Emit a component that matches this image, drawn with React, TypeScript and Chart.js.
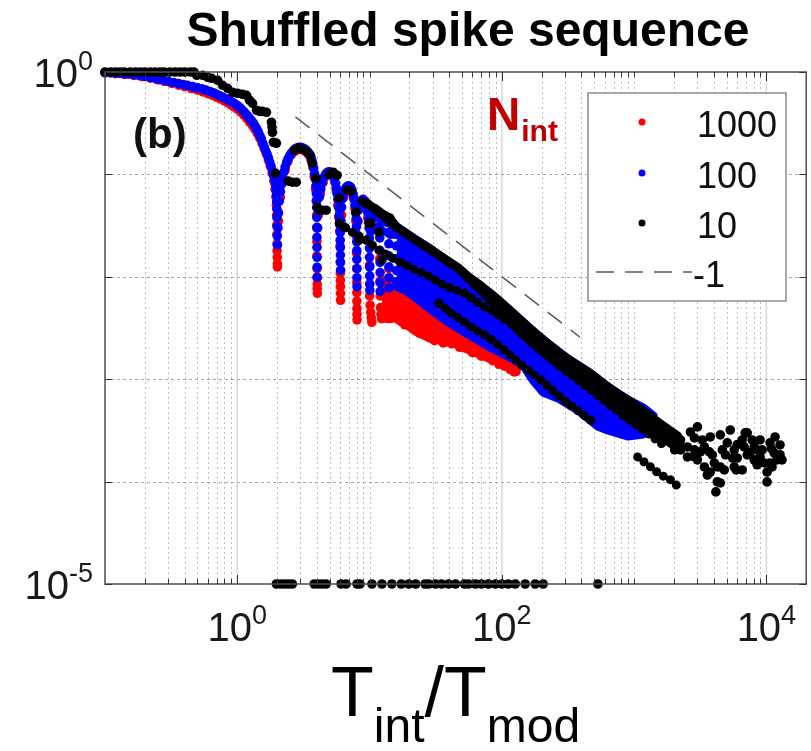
import React, { useEffect, useRef } from 'react';
import { Chart, registerables } from 'chart.js';

Chart.register(...registerables);

type P = [number, number];

// ---------------- text / ticks ----------------
const titleText = 'Shuffled spike sequence';
const panelLabel = '(b)';
const legendTitleMain = 'N';
const legendTitleSub = 'int';
const legendLabels = ['1000', '100', '10', '-1'];
const legendColors = ['#ff0000', '#0000ff', '#000000'];
const xTickLabels = [
  { v: 1, base: '10', exp: '0' },
  { v: 100, base: '10', exp: '2' },
  { v: 10000, base: '10', exp: '4' },
];
const yTickLabels = [
  { v: 1, base: '10', exp: '0' },
  { v: 1e-5, base: '10', exp: '-5' },
];
const yDecades = [1e-5, 1e-4, 1e-3, 1e-2, 1e-1, 1];
const xMajor = [1, 100, 10000];
const xTitleParts: [string, 'main' | 'sub'][] = [
  ['T', 'main'], ['int', 'sub'], ['/', 'main'], ['T', 'main'], ['mod', 'sub'],
];

// ---------------- data ----------------
// slope -1 guide line
const refLine: P[] = [[2.75, 0.364], [390, 0.00257]];

// N_int = 1000 (red)
const redScatter: P[] = [
  [0.1, 0.98], [0.12, 0.965], [0.14, 0.948], [0.165, 0.925], [0.19, 0.9], [0.22, 0.87], [0.25, 0.84],
  [0.28, 0.81], [0.32, 0.775], [0.36, 0.745], [0.4, 0.72], [0.45, 0.69], [0.5, 0.665], [0.55, 0.64],
  [0.6, 0.615], [0.65, 0.59], [0.7, 0.567], [0.75, 0.545], [0.8, 0.522], [0.85, 0.5], [0.9, 0.478],
  [0.95, 0.455], [1.0, 0.435], [1.06, 0.408], [1.12, 0.38], [1.18, 0.352], [1.24, 0.325], [1.3, 0.3],
  [1.36, 0.275], [1.42, 0.25], [1.48, 0.225], [1.54, 0.2], [1.6, 0.178], [1.66, 0.158], [1.72, 0.138],
  [1.78, 0.12], [1.84, 0.102], [1.89, 0.086], [1.93, 0.072], [1.96, 0.06],
  [1.975, 0.05], [1.985, 0.04], [1.99, 0.032], [1.995, 0.026], [2.0, 0.021], [2.0, 0.018], [2.005, 0.0155],
  [2.01, 0.0134], [2.01, 0.0125],
  [2.05, 0.035], [2.12, 0.06], [2.2, 0.085], [2.3, 0.11], [2.42, 0.135], [2.56, 0.155], [2.72, 0.168],
  [2.9, 0.175], [3.08, 0.175], [3.26, 0.168], [3.44, 0.157], [3.6, 0.14], [3.72, 0.118], [3.82, 0.095],
  [3.9, 0.072], [3.95, 0.055],
  [3.98, 0.04], [3.99, 0.03], [4.0, 0.022], [4.0, 0.016], [4.01, 0.012], [4.01, 0.0098], [4.02, 0.0085],
  [4.02, 0.0077], [4.03, 0.0069],
  [4.1, 0.04], [4.25, 0.065], [4.45, 0.083], [4.7, 0.097], [4.95, 0.102], [5.2, 0.099], [5.42, 0.088],
  [5.6, 0.07], [5.75, 0.05], [5.85, 0.038],
  [5.95, 0.028], [5.98, 0.02], [6.0, 0.014], [6.01, 0.0108], [6.02, 0.0092], [6.02, 0.008], [6.03, 0.0069],
  [6.04, 0.0059],
  [6.15, 0.04], [6.4, 0.06], [6.7, 0.071], [7.0, 0.074], [7.3, 0.07], [7.55, 0.06], [7.75, 0.046], [7.88, 0.035],
  [7.95, 0.025], [7.98, 0.017], [8.0, 0.012], [8.01, 0.0088], [8.02, 0.007], [8.02, 0.0058], [8.03, 0.0049],
  [8.04, 0.0043], [8.05, 0.0038],
  [8.2, 0.035], [8.55, 0.05], [8.95, 0.054], [9.35, 0.05], [9.7, 0.038],
  [9.95, 0.022], [10.0, 0.013], [10.01, 0.0085], [10.02, 0.0065], [10.1, 0.0053], [10.2, 0.0045],
  [10.3, 0.004], [10.4, 0.0036],
  [10.6, 0.03], [11.0, 0.042], [11.5, 0.038],
  [11.95, 0.015], [12.0, 0.009], [12.05, 0.0065], [12.1, 0.005], [12.2, 0.0043], [12.3, 0.0039],
  [13.0, 0.036],
  [14.0, 0.012], [14.05, 0.0075], [14.1, 0.0056], [14.15, 0.0046], [14.2, 0.004],
  // ragged lower edge of the red cloud
  [18.5, 0.0034], [24, 0.0028], [31, 0.00238], [36, 0.00226], [42, 0.00222], [48, 0.00205], [60, 0.00182],
  [70, 0.00168], [85, 0.00152], [95, 0.0014], [105, 0.00134], [116, 0.00124], [124, 0.00118],
];
// dense red cloud (outline of the overlapping markers)
const redCloud: P[] = [
  [12.4, 0.0093], [16.08, 0.0081], [19.8, 0.0081], [28, 0.00566], [39.6, 0.00414], [56, 0.00316],
  [79.1, 0.00241], [112, 0.00193], [128.6, 0.00154],
  [128.6, 0.00118], [120, 0.00127], [111.9, 0.00134], [100, 0.00144], [89.4, 0.00156], [80, 0.0016],
  [75.1, 0.00167], [65, 0.0018], [56, 0.00195], [50, 0.00207], [44.7, 0.00223], [38, 0.00232],
  [33.3, 0.00243], [29, 0.0025], [26.25, 0.00266], [22.5, 0.00292], [19.8, 0.00332], [17.5, 0.00362],
  [15.8, 0.00397], [14, 0.0039], [12.4, 0.00397],
];

// N_int = 100 (blue)
const blueScatter: P[] = [
  [0.1, 0.985], [0.11, 0.98], [0.12, 0.975], [0.13, 0.968], [0.14, 0.96], [0.15, 0.952], [0.165, 0.94],
  [0.18, 0.925], [0.2, 0.905], [0.22, 0.885], [0.24, 0.865], [0.26, 0.845], [0.28, 0.828], [0.3, 0.81],
  [0.33, 0.79], [0.36, 0.77], [0.39, 0.755], [0.42, 0.74], [0.46, 0.72], [0.5, 0.7], [0.54, 0.685],
  [0.58, 0.665], [0.62, 0.645], [0.66, 0.625], [0.7, 0.605], [0.74, 0.585], [0.78, 0.565], [0.82, 0.548],
  [0.86, 0.53], [0.9, 0.515], [0.95, 0.492], [1.0, 0.47], [1.04, 0.452], [1.08, 0.432], [1.12, 0.41],
  [1.16, 0.39], [1.2, 0.37], [1.24, 0.352], [1.28, 0.335], [1.32, 0.318], [1.36, 0.298], [1.4, 0.28],
  [1.44, 0.26], [1.48, 0.24], [1.52, 0.222], [1.56, 0.202], [1.6, 0.185], [1.64, 0.17], [1.68, 0.158],
  [1.72, 0.145], [1.76, 0.132], [1.8, 0.12], [1.84, 0.108], [1.88, 0.098], [1.91, 0.09], [1.94, 0.08],
  [1.96, 0.07],
  [1.975, 0.062], [1.985, 0.054], [1.99, 0.046], [1.995, 0.038], [2.0, 0.031], [2.005, 0.025], [2.01, 0.0205],
  [2.03, 0.03], [2.05, 0.042], [2.08, 0.055], [2.12, 0.068], [2.16, 0.08], [2.2, 0.092], [2.25, 0.105],
  [2.3, 0.118], [2.36, 0.13], [2.42, 0.142], [2.49, 0.152], [2.56, 0.161], [2.64, 0.169], [2.72, 0.176],
  [2.8, 0.18], [2.88, 0.183], [2.96, 0.184], [3.04, 0.183], [3.12, 0.181], [3.2, 0.178], [3.28, 0.174],
  [3.36, 0.17], [3.44, 0.164], [3.52, 0.157], [3.6, 0.148], [3.66, 0.138], [3.72, 0.127], [3.78, 0.115],
  [3.84, 0.102], [3.89, 0.09], [3.93, 0.077], [3.96, 0.065], [3.98, 0.055],
  [3.99, 0.0476], [3.995, 0.038], [4.0, 0.0304], [4.0, 0.0243], [4.005, 0.0194], [4.01, 0.0155],
  [4.015, 0.0124], [4.02, 0.0099],
  [4.05, 0.03], [4.1, 0.045], [4.18, 0.06], [4.28, 0.072], [4.4, 0.084], [4.52, 0.093], [4.65, 0.1],
  [4.78, 0.104], [4.92, 0.106], [5.06, 0.105], [5.2, 0.103], [5.32, 0.098], [5.42, 0.091], [5.52, 0.082],
  [5.6, 0.074], [5.68, 0.065], [5.76, 0.057], [5.84, 0.048], [5.9, 0.04],
  [5.94, 0.0448], [5.96, 0.037], [5.98, 0.0319], [6.0, 0.027], [6.0, 0.0228], [6.01, 0.0193], [6.02, 0.0163],
  [6.03, 0.0138], [6.04, 0.0116],
  [6.08, 0.035], [6.15, 0.048], [6.25, 0.058], [6.38, 0.066], [6.52, 0.071], [6.68, 0.075], [6.85, 0.077],
  [7.02, 0.077], [7.2, 0.075], [7.36, 0.07], [7.5, 0.064], [7.64, 0.057], [7.76, 0.05], [7.86, 0.042],
  [7.93, 0.037], [7.97, 0.031], [8.0, 0.026], [8.0, 0.022], [8.01, 0.018], [8.02, 0.0148], [8.03, 0.012],
  [8.03, 0.0098], [8.04, 0.008],
  [8.12, 0.035], [8.25, 0.045], [8.45, 0.052], [8.7, 0.056], [8.95, 0.057], [9.2, 0.055], [9.45, 0.05],
  [9.65, 0.043], [9.82, 0.036],
  [9.92, 0.03], [9.97, 0.024], [10.0, 0.019], [10.0, 0.0155], [10.02, 0.0125], [10.03, 0.0102],
  [10.04, 0.0085], [10.05, 0.0074],
  [10.2, 0.028], [10.4, 0.037], [10.7, 0.043], [11.0, 0.045], [11.3, 0.044], [11.6, 0.038], [11.8, 0.031],
  [11.95, 0.024], [12.0, 0.018], [12.01, 0.0138], [12.02, 0.011], [12.03, 0.0088], [12.04, 0.0072],
  [12.3, 0.028], [12.7, 0.036], [13.1, 0.038], [13.5, 0.034], [13.8, 0.027],
  [14.0, 0.021], [14.01, 0.016], [14.02, 0.0125], [14.03, 0.0098], [14.04, 0.0078],
  [14.4, 0.026], [14.8, 0.032], [15.2, 0.032], [15.6, 0.026],
  [16.0, 0.02], [16.01, 0.015], [16.02, 0.0115], [16.03, 0.009],
];
const blueCloud: P[] = [
  [16.08, 0.0305], [19.8, 0.0255], [28, 0.0191], [39.6, 0.0139], [56, 0.00993], [79.1, 0.00709],
  [111.9, 0.00484], [158.3, 0.00323], [223.8, 0.00221], [316.5, 0.00157], [447.7, 0.00118],
  [633.1, 0.000839], [895.2, 0.000627], [1173, 0.000524], [1395, 0.000437],
  [1395, 0.000349], [1173, 0.000292], [895.2, 0.000279], [633.1, 0.000319], [532.3, 0.000349],
  [447.7, 0.000418], [376.4, 0.000501], [266.2, 0.000656], [205.3, 0.00075], [172.6, 0.000982],
  [145.1, 0.00138], [111.9, 0.00168], [79.1, 0.00211], [56, 0.00276], [39.6, 0.00361], [28, 0.00501],
  [19.8, 0.00709], [16.08, 0.00811],
];

// N_int = 10 (black)
const blackScatter: P[] = [
  [0.1, 1], [0.11, 1], [0.12, 1], [0.13, 1], [0.14, 1], [0.155, 1], [0.17, 1], [0.185, 1], [0.2, 1], [0.22, 1],
  [0.24, 1], [0.26, 1], [0.28, 1], [0.31, 1], [0.34, 1], [0.37, 1], [0.4, 1], [0.44, 1], [0.47, 1],
  [0.494, 0.929], [0.548, 0.929], [0.598, 0.888], [0.641, 0.868], [0.711, 0.83], [0.775, 0.742],
  [0.845, 0.693], [0.922, 0.634], [1.005, 0.62], [1.096, 0.606], [1.175, 0.592], [1.238, 0.53],
  [1.303, 0.495], [1.397, 0.423], [1.472, 0.413], [1.55, 0.413], [1.662, 0.404], [1.812, 0.323],
  [1.83, 0.29], [1.844, 0.258], [1.876, 0.206], [1.975, 0.2015], [1.942, 0.1027],
  [2.432, 0.0859], [2.607, 0.0839], [2.794, 0.0839], [2.699, 0.1722], [2.893, 0.1801], [3.1, 0.1761],
  [3.322, 0.1684], [3.561, 0.1539], [3.686, 0.1286], [3.952, 0.0918], [4.021, 0.0479], [4.162, 0.0447],
  [4.384, 0.0447], [4.698, 0.0447], [4.95, 0.1005], [5.304, 0.1051], [5.685, 0.0982], [5.886, 0.0586],
  [6.418, 0.0305], [6.761, 0.0701], [7.245, 0.0686], [7.9, 0.0428], [8.325, 0.0228], [9.075, 0.0536],
  [9.725, 0.0512], [9.9, 0.0334], [10.24, 0.0334], [10.98, 0.0458], [11.77, 0.0428], [11.77, 0.0273],
  [12.4, 0.0146], [13.29, 0.0391], [14.24, 0.0374], [14.74, 0.0342],
  // long-time scatter
  [3010, 3.42e-4], [2667, 3.05e-4], [2858, 2.67e-4], [2177, 2.39e-4], [3398, 2.18e-4], [2250, 2.04e-4],
  [2531, 1.74e-4], [3010, 1.63e-4], [3398, 1.39e-4], [3770, 1.24e-4], [3579, 1.16e-4], [4257, 1.39e-4],
  [4040, 1.52e-4], [4805, 1.3e-4], [4257, 9.93e-5], [4150, 7.93e-5], [3770, 2.73e-4], [4484, 2.86e-4],
  [5331, 3.19e-4], [5062, 2.39e-4], [5713, 2.04e-4], [6795, 2.18e-4], [6914, 2.99e-4], [7540, 1.91e-4],
  [8079, 1.63e-4], [6563, 1.3e-4], [8966, 1.74e-4], [10660, 2.39e-4], [11430, 1.91e-4], [12040, 1.63e-4],
  [9610, 1.52e-4], [10120, 1.24e-4], [10120, 9.93e-5], [8966, 2.55e-4], [2028, 2.04e-4], [2858, 1.74e-4],
  [5916, 1.3e-4], [7159, 2.99e-4], [8079, 2.18e-4], [12040, 1.74e-4], [10660, 1.52e-4], [4484, 1.39e-4],
  [5713, 1.39e-4], [4484, 9.7e-5], [6020, 2.3e-4], [8511, 2.04e-4], [12680, 1.83e-4], [10900, 2.1e-4],
  [2243, 2.55e-4], [2531, 2.18e-4], [3171, 1.95e-4], [3277, 2.55e-4], [3904, 1.82e-4], [4643, 2.04e-4],
  [6020, 1.7e-4], [6563, 2.55e-4], [7805, 2.55e-4], [8511, 1.46e-4], [11040, 1.39e-4], [12680, 2.28e-4],
  [13130, 1.63e-4], [7159, 1.82e-4], [5555, 1.7e-4], [4906, 1.82e-4], [2858, 2.04e-4], [3707, 1.95e-4],
  [9282, 2.04e-4], [11630, 2.73e-4],
  // values at the lower axis limit
  [1.975, 1e-5], [2.118, 1e-5], [2.27, 1e-5], [2.432, 1e-5], [2.607, 1e-5], [3.816, 1e-5], [4.09, 1e-5],
  [4.384, 1e-5], [4.698, 1e-5], [6.093, 1e-5], [6.644, 1e-5], [8.039, 1e-5], [8.468, 1e-5], [10.42, 1e-5],
  [12.4, 1e-5], [14.74, 1e-5], [17.35, 1e-5], [19.8, 1e-5], [22.34, 1e-5], [26.25, 1e-5], [27.99, 1e-5],
  [31.54, 1e-5], [34.99, 1e-5], [39.58, 1e-5], [44.68, 1e-5], [52.24, 1e-5], [55.98, 1e-5], [63.18, 1e-5],
  [70.09, 1e-5], [79.14, 1e-5], [89.4, 1e-5], [100.3, 1e-5], [111.9, 1e-5], [126.4, 1e-5], [150.2, 1e-5],
  [178.7, 1e-5], [205.3, 1e-5], [532.3, 1e-5],
];
// dense black upper branch (outline of overlapping markers)
const blackCloud: P[] = [
  [8.77, 0.0548], [9.9, 0.0501], [11.17, 0.0458], [12.83, 0.04], [14.49, 0.0357], [16.08, 0.0305],
  [19.8, 0.0255], [23.54, 0.0218], [27.99, 0.0191], [33.29, 0.0163], [39.58, 0.0139], [47.07, 0.01216],
  [55.98, 0.00993], [66.57, 0.00849], [79.14, 0.00709], [94.12, 0.00593], [111.9, 0.00484],
  [133.1, 0.00395], [158.3, 0.00323], [188.3, 0.00264], [223.8, 0.00221], [266.2, 0.00184],
  [316.5, 0.00157], [376.4, 0.00135], [447.7, 0.00118], [532.3, 0.001], [633.1, 0.000839],
  [752.8, 0.000717], [895.2, 0.000627], [1064, 0.000536], [1266, 0.000458], [1505, 0.000382],
  [1790, 0.000327], [2129, 0.000279], [2215, 0.000249],
  [2215, 0.000218], [2129, 0.000213], [1505, 0.000292], [1064, 0.000409], [752.8, 0.000548],
  [532.3, 0.000767], [376.4, 0.00103], [266.2, 0.00141], [188.3, 0.00202], [133.1, 0.00302],
  [94.12, 0.00501], [66.57, 0.00776], [47.07, 0.01216], [33.29, 0.0163], [23.54, 0.0218], [16.08, 0.0305],
  [11.17, 0.0458], [8.77, 0.0548],
];
// chains of black markers below the upper branch
const blackChainB: P[] = [
  [5.886, 0.0334], [7.374, 0.0273], [9.396, 0.0228], [11.77, 0.0182], [15.8, 0.0146], [20.84, 0.01216],
  [27.99, 0.01016], [37.57, 0.00811], [52.24, 0.00693], [66.57, 0.00554], [89.4, 0.00442], [117.9, 0.00346],
  [150.2, 0.00276], [205.3, 0.00193], [266.2, 0.00138], [376.4, 0.000982], [560.8, 0.000656],
  [849.8, 0.000428], [1202, 0.000312], [1700, 0.000223],
];
const blackChainC: P[] = [
  [33.29, 0.00554], [41.69, 0.00442], [58.96, 0.00323], [79.14, 0.00258], [100.3, 0.00202], [140.2, 0.00138],
  [198.3, 0.000982], [280.4, 0.000656], [396.5, 0.000468], [488.1, 0.000382],
];
const blackChainE: P[] = [
  [1064, 0.000174], [1334, 0.000139], [1586, 0.000116], [1854, 0.000106], [2204, 0.0000868],
];

// ---------------- drawing helpers ----------------
const FONT = '"Liberation Sans", Arial, Helvetica, sans-serif';
const toXY = (a: P[]) => a.map(([x, y]) => ({ x, y }));

function drawPow(ctx: CanvasRenderingContext2D, base: string, exp: string, x: number, y: number,
  align: 'left' | 'center' | 'right', bs: number, ss: number, rise: number) {
  ctx.font = `${bs}px ${FONT}`;
  const wb = ctx.measureText(base).width;
  ctx.font = `${ss}px ${FONT}`;
  const we = ctx.measureText(exp).width;
  const total = wb + we;
  const sx = align === 'center' ? x - total / 2 : align === 'right' ? x - total : x;
  ctx.textAlign = 'left';
  ctx.textBaseline = 'alphabetic';
  ctx.font = `${bs}px ${FONT}`;
  ctx.fillText(base, sx, y);
  ctx.font = `${ss}px ${FONT}`;
  ctx.fillText(exp, sx + wb, y - rise);
}

const decor = {
  id: 'decor',
  beforeDatasetsDraw(chart: any) {
    const { ctx, chartArea: a } = chart;
    const xs = chart.scales.x;
    const ys = chart.scales.y;
    ctx.save();
    ctx.beginPath();
    ctx.rect(a.left, a.top, a.right - a.left, a.bottom - a.top);
    ctx.clip();
    ctx.lineWidth = 1;
    ctx.strokeStyle = '#bdbdbd';
    ctx.setLineDash([2, 3]);
    for (let d = -1; d <= 4; d++) {
      for (let k = 1; k <= 9; k++) {
        const v = k * Math.pow(10, d);
        if (v <= 0.1 || v >= 20000) continue;
        if (k === 1 && (d === 0 || d === 2 || d === 4)) continue;
        const p = Math.round(xs.getPixelForValue(v)) + 0.5;
        ctx.beginPath(); ctx.moveTo(p, a.top); ctx.lineTo(p, a.bottom); ctx.stroke();
      }
    }
    ctx.setLineDash([]);
    ctx.strokeStyle = '#d9d9d9';
    ctx.lineWidth = 1.5;
    for (const v of xMajor) {
      const p = xs.getPixelForValue(v);
      ctx.beginPath(); ctx.moveTo(p, a.top); ctx.lineTo(p, a.bottom); ctx.stroke();
    }
    ctx.setLineDash([3, 3]);
    ctx.strokeStyle = '#a6a6a6';
    ctx.lineWidth = 1;
    for (const v of yDecades) {
      if (v === 1 || v === 1e-5) continue;
      const p = Math.round(ys.getPixelForValue(v)) + 0.5;
      ctx.beginPath(); ctx.moveTo(a.left, p); ctx.lineTo(a.right, p); ctx.stroke();
    }
    ctx.restore();
  },
  afterDatasetsDraw(chart: any) {
    const { ctx, chartArea: a } = chart;
    const xs = chart.scales.x;
    const ys = chart.scales.y;
    ctx.save();
    ctx.setLineDash([]);
    ctx.strokeStyle = '#4d4d4d';
    ctx.lineWidth = 1.5;
    ctx.strokeRect(a.left, a.top, a.right - a.left, a.bottom - a.top);
    ctx.lineWidth = 1;
    ctx.strokeStyle = '#333';
    for (let d = -1; d <= 4; d++) {
      for (let k = 1; k <= 9; k++) {
        const v = k * Math.pow(10, d);
        if (v <= 0.1 || v >= 20000) continue;
        const major = k === 1 && (d === 0 || d === 2 || d === 4);
        const len = major ? 9 : 5;
        const p = Math.round(xs.getPixelForValue(v)) + 0.5;
        ctx.beginPath();
        ctx.moveTo(p, a.bottom); ctx.lineTo(p, a.bottom - len);
        ctx.moveTo(p, a.top); ctx.lineTo(p, a.top + len);
        ctx.stroke();
      }
    }
    for (const v of yDecades) {
      const p = Math.round(ys.getPixelForValue(v)) + 0.5;
      ctx.beginPath();
      ctx.moveTo(a.left, p); ctx.lineTo(a.left + 7, p);
      ctx.moveTo(a.right, p); ctx.lineTo(a.right - 7, p);
      ctx.stroke();
    }
    ctx.fillStyle = '#1a1a1a';
    for (const t of yTickLabels) {
      const p = ys.getPixelForValue(t.v);
      drawPow(ctx, t.base, t.exp, a.left - 12, p + 15, 'right', 40, 27, 17);
    }
    for (const t of xTickLabels) {
      const p = xs.getPixelForValue(t.v);
      drawPow(ctx, t.base, t.exp, p, a.bottom + 57, 'center', 40, 27, 17);
    }
    {
      const sizes = { main: 70, sub: 48 };
      let total = 0;
      for (const [s, k] of xTitleParts) { ctx.font = `${sizes[k]}px ${FONT}`; total += ctx.measureText(s).width; }
      let x = (a.left + a.right) / 2 - total / 2;
      ctx.fillStyle = '#000';
      ctx.textAlign = 'left';
      for (const [s, k] of xTitleParts) {
        ctx.font = `${sizes[k]}px ${FONT}`;
        ctx.fillText(s, x, k === 'main' ? 716 : 742);
        x += ctx.measureText(s).width;
      }
    }
    ctx.fillStyle = '#000';
    ctx.textAlign = 'center';
    ctx.font = `bold 48px ${FONT}`;
    ctx.fillText(titleText, 468, 46);
    ctx.textAlign = 'left';
    ctx.font = `bold 42px ${FONT}`;
    ctx.fillStyle = '#111';
    ctx.fillText(panelLabel, 133, 148);
    ctx.fillStyle = '#c00000';
    ctx.font = `bold 46px ${FONT}`;
    ctx.fillText(legendTitleMain, 487, 130);
    const wn = ctx.measureText(legendTitleMain).width;
    ctx.font = `bold 30px ${FONT}`;
    ctx.fillText(legendTitleSub, 487 + wn + 1, 141);
    const bx = 588, by = 93, bw = 198, bh = 208;
    ctx.fillStyle = '#fff';
    ctx.fillRect(bx, by, bw, bh);
    ctx.strokeStyle = '#8c8c8c';
    ctx.lineWidth = 1.5;
    ctx.strokeRect(bx, by, bw, bh);
    const rows = [122, 173, 223, 272];
    ctx.font = `36px ${FONT}`;
    for (let i = 0; i < 3; i++) {
      ctx.fillStyle = legendColors[i];
      ctx.beginPath(); ctx.arc(642, rows[i], 3.5, 0, Math.PI * 2); ctx.fill();
      ctx.fillStyle = '#111';
      ctx.fillText(legendLabels[i], 697, rows[i] + 15);
    }
    ctx.strokeStyle = '#5a5a5a';
    ctx.lineWidth = 1.5;
    ctx.setLineDash([18, 11]);
    ctx.beginPath(); ctx.moveTo(596, rows[3]); ctx.lineTo(692, rows[3]); ctx.stroke();
    ctx.setLineDash([]);
    ctx.fillStyle = '#111';
    ctx.fillText(legendLabels[3], 693, rows[3] + 15);
    ctx.restore();
  },
};

export default function App() {
  const ref = useRef<HTMLCanvasElement | null>(null);
  useEffect(() => {
    if (!ref.current) return;
    const pts = (data: P[], color: string, order: number) => ({
      data: toXY(data), showLine: false, pointRadius: 4.8, pointHoverRadius: 4.8,
      pointBackgroundColor: color, pointBorderColor: color, pointBorderWidth: 0, order, clip: false as any,
    });
    const cloud = (data: P[], color: string, order: number, w: number) => ({
      data: toXY(data), showLine: true, fill: 'shape', backgroundColor: color, borderColor: color,
      borderWidth: w, borderJoinStyle: 'round', borderCapStyle: 'round', pointRadius: 0, order,
    });
    const chain = (data: P[], order: number) => ({
      data: toXY(data), showLine: true, fill: false, borderColor: '#000', borderWidth: 9,
      borderDash: [0.01, 8], borderCapStyle: 'round', borderJoinStyle: 'round', pointRadius: 0, order,
    });
    const chart = new Chart(ref.current, {
      type: 'line',
      data: {
        datasets: [
          { label: '-1', data: toXY(refLine), showLine: true, fill: false, borderColor: '#5a5a5a',
            borderWidth: 1.5, borderDash: [18, 11], pointRadius: 0, order: 1 } as any,
          { label: '10', ...pts(blackScatter, '#000000', 2) } as any,
          { label: '10 chain B', ...chain(blackChainB, 3) } as any,
          { label: '10 chain C', ...chain(blackChainC, 3) } as any,
          { label: '10 chain E', ...chain(blackChainE, 3) } as any,
          { label: '10 cloud', ...cloud(blackCloud, '#000000', 4, 9) } as any,
          { label: '100', ...pts(blueScatter, '#0000ff', 5) } as any,
          { label: '100 cloud', ...cloud(blueCloud, '#0000ff', 6, 9) } as any,
          { label: '1000', ...pts(redScatter, '#ff0000', 7) } as any,
          { label: '1000 cloud', ...cloud(redCloud, '#ff0000', 8, 9) } as any,
        ],
      },
      options: {
        responsive: false,
        animation: false,
        devicePixelRatio: 1,
        events: [],
        layout: { padding: { left: 105, top: 72, right: 1.5, bottom: 167 } },
        scales: {
          x: { type: 'logarithmic', min: 0.1, max: 20000, display: false },
          y: { type: 'logarithmic', min: 1e-5, max: 1, display: false },
        },
        plugins: { legend: { display: false }, tooltip: { enabled: false } },
      } as any,
      plugins: [decor],
    });
    return () => chart.destroy();
  }, []);
  return (
    <div style={{ position: 'fixed', left: 0, top: 0, width: 811, height: 751, background: '#fff' }}>
      <canvas ref={ref} width={811} height={751} />
    </div>
  );
}
